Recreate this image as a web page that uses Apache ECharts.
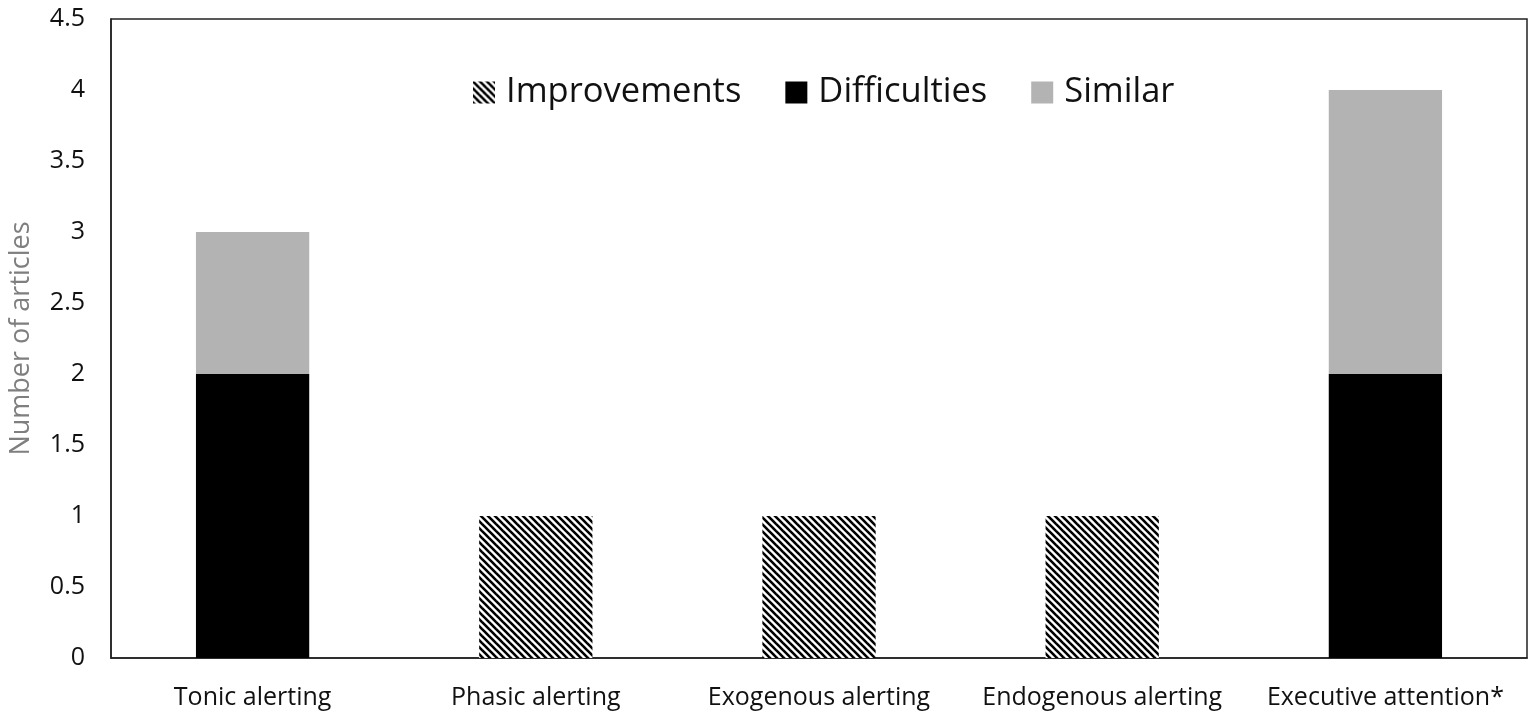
<!DOCTYPE html>
<html><head><meta charset="utf-8">
<script src="https://cdn.jsdelivr.net/npm/echarts@6/dist/echarts.min.js"></script>
<style>html,body{margin:0;padding:0;background:#fff}#c{width:1535px;height:718px}</style>
</head><body><div id="c"></div>
<script>
const categories = ['Tonic alerting','Phasic alerting','Exogenous alerting','Endogenous alerting','Executive attention*'];
const improvements = [null, 1, 1, 1, null];
const difficulties = [2, null, null, null, 2];
const similar = [1, null, null, null, 2];
const yTicks = [0, 0.5, 1, 1.5, 2, 2.5, 3, 3.5, 4, 4.5];

function hatch(){
  const s = 7;
  const c = document.createElement('canvas');
  c.width = s; c.height = s;
  const g = c.getContext('2d');
  g.fillStyle = '#fff'; g.fillRect(0,0,s,s);
  g.strokeStyle = '#000'; g.lineWidth = 2.6;
  for (const k of [-s, 0, s]) {
    g.beginPath(); g.moveTo(k-1, -1); g.lineTo(k+s+1, s+1); g.stroke();
  }
  return c;
}
const pat = {image: hatch(), repeat: 'repeat'};
const font = 'Open Sans';
const chart = echarts.init(document.getElementById('c'));
chart.setOption({
  animation: false,
  textStyle: {fontFamily: font},
  grid: {left: 109, right: 8, top: 19, bottom: 60, show: true, borderColor: '#222', borderWidth: 1.5, backgroundColor: 'transparent'},
  legend: {
    top: 70, left: 468, itemWidth: 22, itemHeight: 22, itemGap: 44,
    icon: 'rect',
    textStyle: {fontSize: 34.5, color: '#111', fontFamily: font, padding: [0,0,0,6]},
    data: ['Improvements','Difficulties','Similar']
  },
  xAxis: {
    type: 'category', data: categories,
    axisLine: {show: true, lineStyle: {color: '#222', width: 1.5}},
    axisTick: {show: false},
    axisLabel: {fontSize: 25, color: '#111', margin: 27, interval: 0}
  },
  yAxis: {
    type: 'value', min: 0, max: 4.5, interval: 0.5,
    name: 'Number of articles', nameLocation: 'middle', nameGap: 76,
    nameTextStyle: {fontSize: 27, color: '#7f7f7f'},
    splitLine: {show: false},
    axisLine: {show: true, lineStyle: {color: '#222', width: 1.5}},
    axisTick: {show: false},
    axisLabel: {fontSize: 25, color: '#111', margin: 26,
      formatter: v => yTicks.includes(v) ? String(v) : ''}
  },
  series: [
    {name: 'Improvements', type: 'bar', stack: 's', data: improvements, barWidth: '40%', itemStyle: {color: pat}},
    {name: 'Difficulties', type: 'bar', stack: 's', data: difficulties, barWidth: '40%', itemStyle: {color: '#000'}},
    {name: 'Similar', type: 'bar', stack: 's', data: similar, barWidth: '40%', itemStyle: {color: '#b3b3b3'}}
  ]
});
</script></body></html>
